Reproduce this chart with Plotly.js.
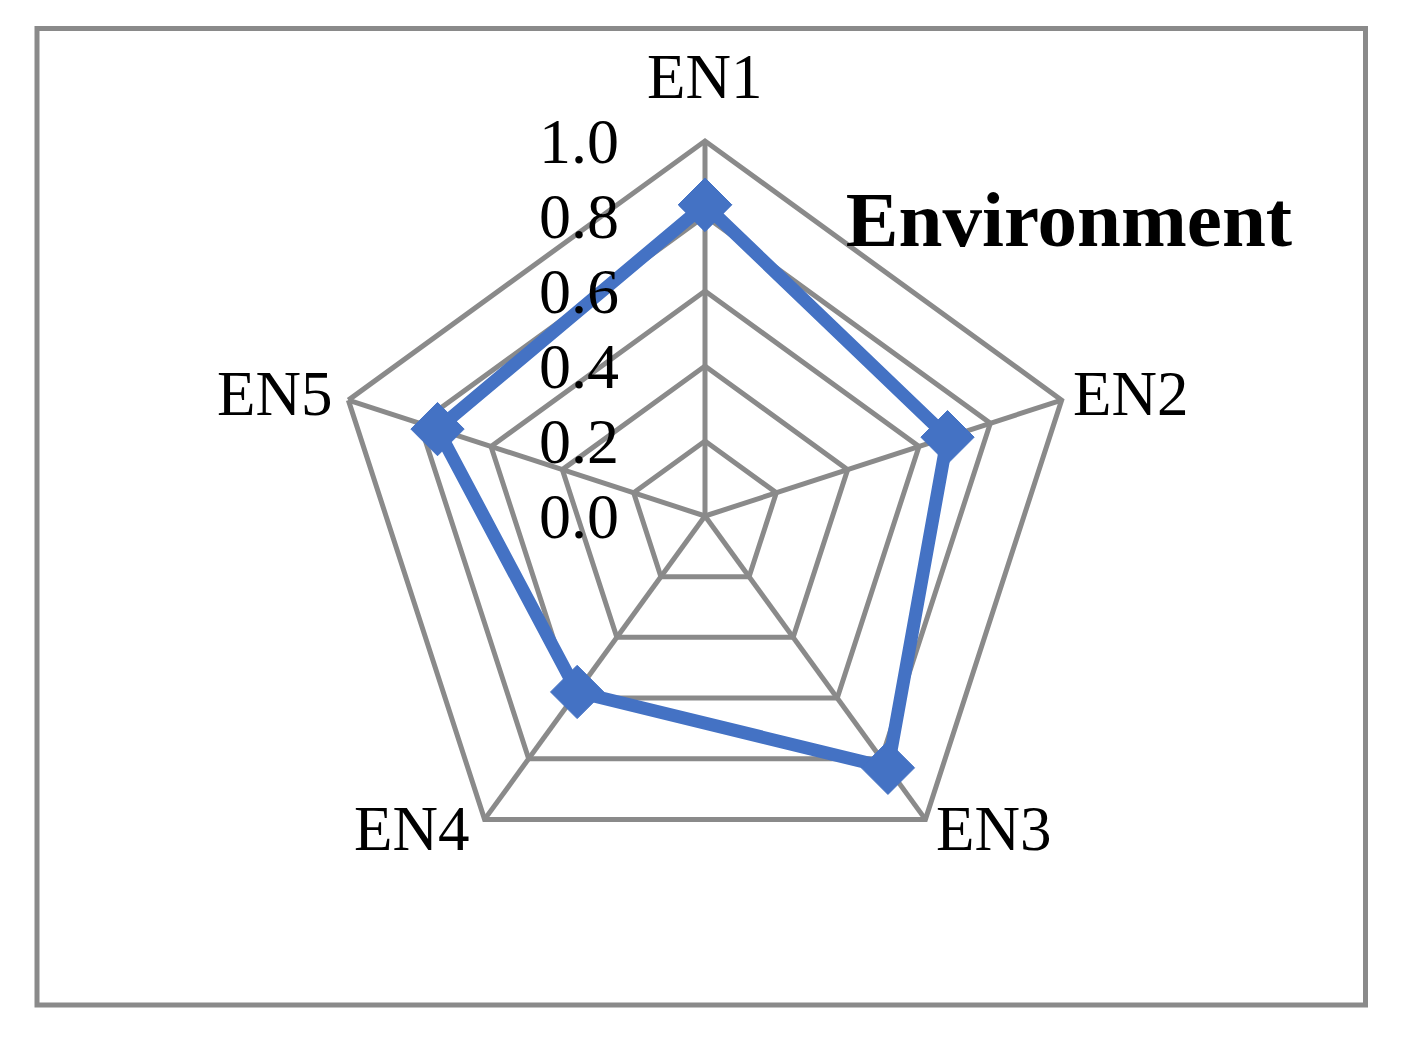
<!DOCTYPE html>
<html>
<head>
<meta charset="utf-8">
<script src="https://cdn.plot.ly/plotly-3.0.1.min.js"></script>
<style>
	html, body { margin: 0; padding: 0; background: #fff; }
	#chart { width: 1405px; height: 1042px; }
</style>
</head>
<body>
<div id="chart"></div>
<script>
var categories = ['EN1', 'EN2', 'EN3', 'EN4', 'EN5'];
var scores = [0.83, 0.68, 0.83, 0.58, 0.75];
var tickValues = [0, 0.2, 0.4, 0.6, 0.8, 1.0];
var chartTitle = 'Environment';

var W = 1405, H = 1042;
var GREY = '#8a8a8a';
var BLUE = '#4472c4';
var FONT = 'Liberation Serif, Times New Roman, serif';

var polarDomain = { x: [330 / W, 1080 / W], y: [1 - 891 / H, 1 - 141 / H] };
// same radar nudged up a little, only used to carry the 0.0 - 1.0 labels
var LIFT = 10 / H;
var labelDomain = { x: polarDomain.x, y: [polarDomain.y[0] + LIFT, polarDomain.y[1] + LIFT] };

// close the polygon by repeating the first point
var theta = categories.concat([categories[0]]);
var r = scores.concat([scores[0]]);

// category labels sit just outside the pentagon corners, Excel style
var cx = (polarDomain.x[0] + polarDomain.x[1]) / 2 * W;
var cy = (1 - (polarDomain.y[0] + polarDomain.y[1]) / 2) * H;
var R = (polarDomain.x[1] - polarDomain.x[0]) * W / 2;
var catLabels = categories.map((c, i) => {
	var a = (90 - 360 * i / categories.length) * Math.PI / 180;
	var vx = cx + R * Math.cos(a);
	var vy = cy - R * Math.sin(a);
	var cosA = Math.cos(a);
	var xanchor = cosA > 0.1 ? 'left' : (cosA < -0.1 ? 'right' : 'center');
	var dx = xanchor === 'left' ? 9 : (xanchor === 'right' ? -14 : 0);
	var yanchor = xanchor === 'center' ? 'bottom' : 'middle';
	var dy = xanchor === 'center' ? -27 : (Math.sin(a) > 0 ? -6 : 10);
	return {
		text: c,
		xref: 'paper', yref: 'paper',
		x: (vx + dx) / W,
		y: 1 - (vy + dy) / H,
		xanchor: xanchor,
		yanchor: yanchor,
		showarrow: false,
		font: { family: FONT, size: 63, color: '#000' }
	};
});

var data = [{
	type: 'scatterpolar',
	subplot: 'polar',
	r: r,
	theta: theta,
	mode: 'lines+markers',
	line: { color: BLUE, width: 13 },
	marker: { symbol: 'diamond', size: 41, color: BLUE, line: { color: BLUE, width: 1 } },
	cliponaxis: false,
	hoverinfo: 'none'
}, {
	type: 'scatterpolar',
	subplot: 'polar2',
	r: [],
	theta: [],
	mode: 'markers',
	showlegend: false,
	hoverinfo: 'none'
}];

var layout = {
	width: W,
	height: H,
	margin: { l: 0, r: 0, t: 0, b: 0 },
	paper_bgcolor: '#fff',
	showlegend: false,
	font: { family: FONT, color: '#000' },
	title: {
		text: '<b>' + chartTitle + '</b>',
		font: { family: FONT, size: 79, color: '#000' },
		x: 1069 / W,
		xanchor: 'center',
		xref: 'paper',
		y: 1 - 218 / H,
		yanchor: 'middle',
		yref: 'paper'
	},
	polar: {
		domain: polarDomain,
		bgcolor: 'rgba(0,0,0,0)',
		gridshape: 'linear',
		radialaxis: {
			range: [0, 1],
			tickvals: tickValues,
			angle: 90,
			showline: false,
			ticks: '',
			showticklabels: false,
			gridcolor: GREY,
			gridwidth: 5
		},
		angularaxis: {
			type: 'category',
			categoryarray: categories,
			rotation: 90,
			direction: 'clockwise',
			showline: true,
			linecolor: GREY,
			linewidth: 5,
			gridcolor: GREY,
			gridwidth: 5,
			ticks: '',
			showticklabels: false
		}
	},
	polar2: {
		domain: labelDomain,
		bgcolor: 'rgba(0,0,0,0)',
		gridshape: 'linear',
		radialaxis: {
			range: [0, 1],
			tickvals: tickValues,
			tickformat: '.1f',
			angle: 90,
			side: 'counterclockwise',
			showline: false,
			showgrid: false,
			ticks: 'outside',
			ticklen: 28,
			tickcolor: 'rgba(0,0,0,0)',
			tickfont: { family: FONT, size: 64, color: '#000' },
			layer: 'above traces'
		},
		angularaxis: {
			type: 'category',
			categoryarray: categories,
			rotation: 90,
			direction: 'clockwise',
			showline: false,
			showgrid: false,
			ticks: '',
			showticklabels: false
		}
	},
	annotations: catLabels,
	shapes: [{
		type: 'rect',
		xref: 'paper', yref: 'paper',
		x0: 37 / W, x1: 1365.5 / W,
		y0: 1 - 1005 / H, y1: 1 - 28.5 / H,
		line: { color: GREY, width: 5 },
		fillcolor: 'rgba(0,0,0,0)'
	}]
};

Plotly.newPlot('chart', data, layout, { staticPlot: true });
</script>
</body>
</html>
